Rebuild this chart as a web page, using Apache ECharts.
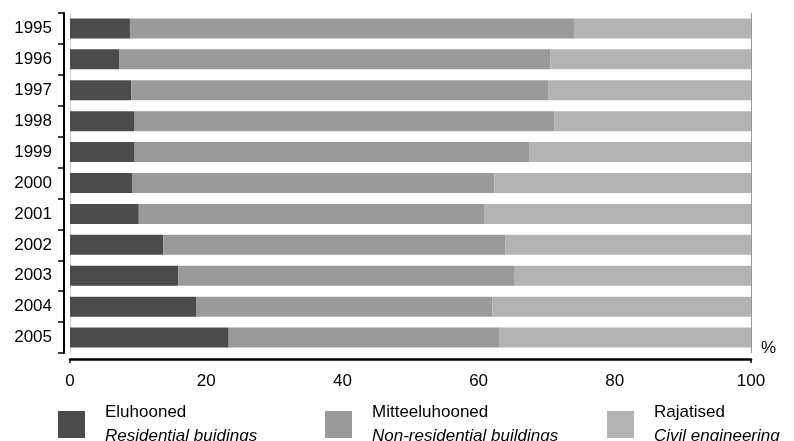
<!DOCTYPE html>
<html>
<head>
<meta charset="utf-8">
<script src="https://cdn.jsdelivr.net/npm/echarts@6/dist/echarts.min.js"></script>
<style>html,body{margin:0;padding:0;background:#fff;}#c{width:794px;height:441px;}</style>
</head>
<body>
<div id="c"></div>
<script>
const years = ['1995','1996','1997','1998','1999','2000','2001','2002','2003','2004','2005'];
const residential = [8.8, 7.2, 9.0, 9.4, 9.4, 9.1, 10.1, 13.7, 15.9, 18.5, 23.3];
const nonResidential = [65.2, 63.3, 61.2, 61.7, 58.1, 53.2, 50.7, 50.2, 49.3, 43.5, 39.7];
const civil = [26.0, 29.5, 29.8, 28.9, 32.5, 37.7, 39.2, 36.1, 34.8, 38.0, 37.0];
const xTicks = [0, 20, 40, 60, 80, 100];
const names = ['Eluhooned', 'Mitteeluhooned', 'Rajatised'];
const subNames = ['Residential buidings', 'Non-residential buildings', 'Civil engineering'];
const colors = ['#4b4b4b', '#9a9a9a', '#b3b3b3'];

const chart = echarts.init(document.getElementById('c'), null, {renderer: 'canvas'});
const FONT = '"Liberation Sans", Arial, sans-serif';
const legendLefts = [58, 325, 607];
const legends = names.map((n, i) => ({
  data: [n],
  left: legendLefts[i],
  top: 404,
  padding: 0,
  orient: 'horizontal',
  itemWidth: 27,
  itemHeight: 27,
  icon: 'rect',
  selectedMode: false,
  formatter: name => '{a|' + name + '}\n{b|' + subNames[names.indexOf(name)] + '}',
  textStyle: {
    padding: [0, 0, 0, 15],
    rich: {
      a: {fontFamily: FONT, fontSize: 17, color: '#000', lineHeight: 24},
      b: {fontFamily: FONT, fontSize: 17, color: '#000', lineHeight: 24, fontStyle: 'italic'}
    }
  }
}));

const seriesData = [residential, nonResidential, civil];
chart.setOption({
  animation: false,
  textStyle: {fontFamily: FONT},
  grid: {left: 70, right: 43, top: 13, bottom: 88, containLabel: false},
  legend: legends,
  xAxis: {
    type: 'value',
    min: xTicks[0],
    max: xTicks[xTicks.length - 1],
    interval: 20,
    offset: 6,
    name: '%',
    nameLocation: 'end',
    nameGap: 10,
    nameTextStyle: {fontFamily: FONT, fontSize: 17, color: '#000', verticalAlign: 'bottom', padding: [0, 0, 2, 0]},
    axisLine: {show: true, onZero: false, lineStyle: {color: '#000', width: 2.5}},
    axisTick: {show: true, customValues: [0, 100], length: 4, lineStyle: {color: '#000', width: 1.5}},
    axisLabel: {fontFamily: FONT, fontSize: 17, color: '#000', margin: 14},
    splitLine: {show: true, lineStyle: {color: ['#cfcfcf', '#999', '#999', '#999', '#999', '#c4c4c4'], width: 1}}
  },
  yAxis: {
    type: 'category',
    data: years,
    inverse: true,
    offset: 6,
    axisLine: {show: true, onZero: false, lineStyle: {color: '#000', width: 2}},
    axisTick: {show: true, length: 6, lineStyle: {color: '#000', width: 1.5}},
    axisLabel: {fontFamily: FONT, fontSize: 17, color: '#000', margin: 12},
    splitLine: {show: false}
  },
  series: names.map((n, i) => ({
    name: n,
    type: 'bar',
    stack: 'total',
    barWidth: 20,
    data: seriesData[i],
    itemStyle: {color: colors[i]},
    emphasis: {disabled: true}
  }))
});
</script>
</body>
</html>
